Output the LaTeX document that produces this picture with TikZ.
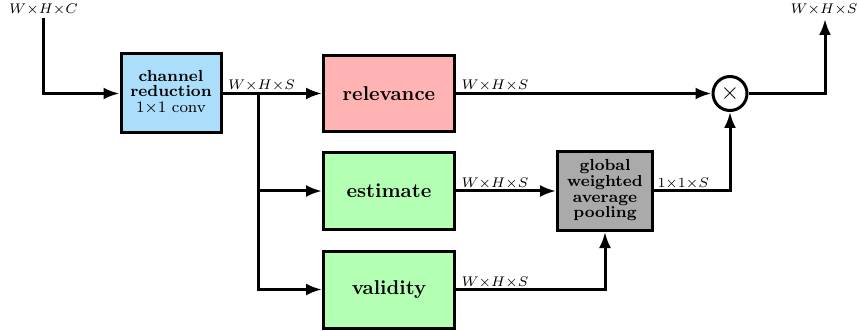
\documentclass[tikz,border=0pt]{standalone}
\usepackage{graphicx}
\usetikzlibrary{arrows.meta}

\definecolor{boxblue}{RGB}{170,222,250}
\definecolor{boxred}{RGB}{255,179,179}
\definecolor{boxgreen}{RGB}{179,255,179}
\definecolor{boxgray}{RGB}{170,170,170}

% text helpers: small designs drawn at twice their size
\newcommand{\bigtxt}[1]{\scalebox{2}{\fontsize{10}{12}\selectfont\bfseries #1}}
\newcommand{\stacktxt}[1]{\scalebox{2}{\fontsize{8}{7.8}\selectfont\bfseries\begin{tabular}{@{}c@{}}#1\end{tabular}}}
\newcommand{\dimtxt}[1]{\scalebox{2}{\fontsize{7}{8}\selectfont$#1$}}

\begin{document}
\begin{tikzpicture}[x=1pt,y=-1pt,line width=3pt,
  >={Latex[length=16pt,width=12pt]},
  blk/.style={draw,line width=3pt,inner sep=0pt,align=center},
  dimlbl/.style={inner sep=0pt,anchor=base west},
  toplbl/.style={inner sep=0pt,anchor=base}]
\useasboundingbox (0,0) rectangle (859,331);

% processing blocks
\node[blk,fill=boxblue,minimum width=100pt,minimum height=79pt] (red) at (171,93.5)
  {\stacktxt{channel\\reduction\\\mdseries 1$\times$1 conv}};
\node[blk,fill=boxred,minimum width=131pt,minimum height=76pt] (rel) at (389,93.5)
  {\bigtxt{relevance}};
\node[blk,fill=boxgreen,minimum width=131pt,minimum height=77pt] (est) at (389,191)
  {\bigtxt{estimate}};
\node[blk,fill=boxgreen,minimum width=131pt,minimum height=77pt] (val) at (389,289.5)
  {\bigtxt{validity}};
\node[blk,fill=boxgray,minimum width=95pt,minimum height=79pt] (pool) at (605,191)
  {\stacktxt{global\\weighted\\average\\pooling}};
\node[draw,circle,line width=3pt,minimum size=34pt,inner sep=0pt] (mul) at (730,93.5)
  {\scalebox{2.4}{$\times$}};

% input and output tensors
\node[toplbl] (inC) at (43.5,13.5) {\dimtxt{W{\times}H{\times}C}};
\node[toplbl] (outS) at (824,14) {\dimtxt{W{\times}H{\times}S}};
\coordinate (cin) at (43,18);
\coordinate (cout) at (825,19);
\coordinate (br) at (258.5,93.5);

% connectors
\draw[->] (cin) |- (red.west);
\draw[->] (red.east) -- (rel.west);
\draw[->] (br) |- (est.west);
\draw[->] (br) |- (val.west);
\draw[->] (rel.east) -- (mul.west);
\draw[->] (est.east) -- (pool.west);
\draw[->] (val.east) -| (pool.south);
\draw[->] (pool.east) -| (mul.south);
\draw[->] (mul.east) -| (cout);

% tensor shapes along the connectors
\node[dimlbl] (l1) at (226.5,90) {\dimtxt{W{\times}H{\times}S}};
\node[dimlbl] (l2) at (460,90) {\dimtxt{W{\times}H{\times}S}};
\node[dimlbl] (l3) at (460,187.5) {\dimtxt{W{\times}H{\times}S}};
\node[dimlbl] (l4) at (460,286) {\dimtxt{W{\times}H{\times}S}};
\node[dimlbl] (l5) at (656,187.5) {\dimtxt{1{\times}1{\times}S}};
\end{tikzpicture}
\end{document}
